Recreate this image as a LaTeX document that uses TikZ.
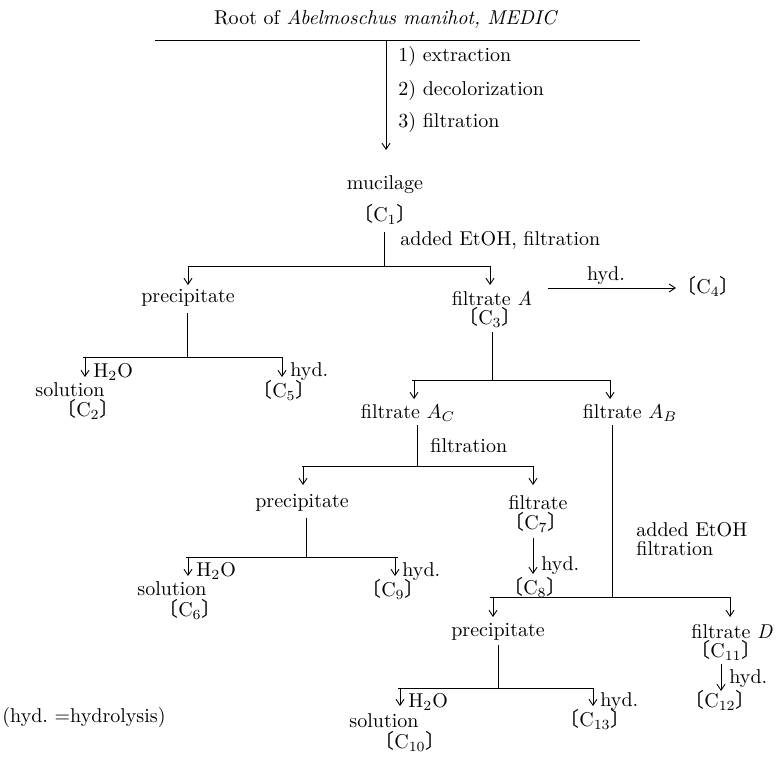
\documentclass[tikz,border=0pt]{standalone}
\usepackage{fontspec}
\newfontfamily\cjk{Noto Sans CJK JP}
\usetikzlibrary{arrows.meta}
\newcommand\cc[1]{\smash{{\cjk 〔}}C$_{#1}$\smash{{\cjk 〕}}}
\begin{document}
\begin{tikzpicture}[x=0.5pt,y=-0.5pt,
  lbl/.style={inner sep=0pt, font=\fontsize{10}{12}\selectfont},
  ln/.style={line width=0.45pt},
  arr/.style={line width=0.45pt,-{Straight Barb[length=3pt,width=4pt]}}]
\useasboundingbox (0,0) rectangle (779,757);
% top
\node[lbl] (root) at (386,19) {Root of \textit{Abelmoschus manihot, MEDIC}};
\coordinate (tl) at (155,40); \coordinate (tr) at (640,40);
\draw[ln] (tl) -- (tr);
\coordinate (t0) at (386,41); \coordinate (t1) at (386,150);
\draw[arr] (t0) -- (t1);
\node[lbl,anchor=west] (s1) at (398,56) {1)\ extraction};
\node[lbl,anchor=west] (s2) at (398,90) {2)\ decolorization};
\node[lbl,anchor=west] (s3) at (398,122) {3)\ filtration};
\node[lbl] (muc) at (385,185) {mucilage};
\node[lbl] (c1) at (385,216) {\cc{1}};
% split 1
\coordinate (m0) at (384,232); \coordinate (m1) at (384,266);
\draw[ln] (m0) -- (m1);
\node[lbl,anchor=west] (ae1) at (400,240) {added EtOH, filtration};
\coordinate (h1l) at (188,266); \coordinate (h1r) at (490,266);
\draw[ln] (h1l) -- (h1r);
\coordinate (h1la) at (188,285); \coordinate (h1ra) at (490,285);
\draw[arr] (h1l) -- (h1la);
\draw[arr] (h1r) -- (h1ra);
\node[lbl] (p1) at (188,298) {precipitate};
\node[lbl] (fA) at (492,298) {filtrate \textit{A}};
\node[lbl] (c3) at (490,319) {\cc{3}};
\coordinate (hy0) at (548,288);
\node[lbl] (c4) at (708,288) {\cc{4}};
\draw[arr] (hy0) -- (hy0 -| c4.west);
\node[lbl] (hy4) at (606,276) {hyd.};
% precipitate 1
\coordinate (p1a) at (187,313); \coordinate (p1b) at (187,357);
\draw[ln] (p1a) -- (p1b);
\coordinate (h2l) at (83,357); \coordinate (h2r) at (283,357);
\draw[ln] (h2l) -- (h2r);
\coordinate (h2la) at (85,377); \coordinate (h2ra) at (282,377);
\draw[arr] (85,357) -- (h2la);
\draw[arr] (282,357) -- (h2ra);
\node[lbl,anchor=west] (w2) at (93,372) {H$_2$O};
\node[lbl] (sol2) at (70,390) {solution};
\node[lbl] (c2) at (88,411) {\cc{2}};
\node[lbl,anchor=west] (hy5) at (290,372) {hyd.};
\node[lbl] (c5) at (284,392) {\cc{5}};
% filtrate A
\coordinate (fa0) at (492,332); \coordinate (fa1) at (492,380);
\draw[ln] (fa0) -- (fa1);
\coordinate (h3l) at (412,380); \coordinate (h3r) at (611,380);
\draw[ln] (h3l) -- (h3r);
\coordinate (h3la) at (414,399); \coordinate (h3ra) at (610,399);
\draw[arr] (414,380) -- (h3la);
\draw[arr] (610,380) -- (h3ra);
\node[lbl] (fAC) at (408,413) {filtrate $A_C$};
\node[lbl] (fAB) at (630,413) {filtrate $A_B$};
% filtrate AC
\coordinate (ac0) at (417,425); \coordinate (ac1) at (417,466);
\draw[ln] (ac0) -- (ac1);
\node[lbl,anchor=west] (fil2) at (430,446) {filtration};
\coordinate (h4l) at (302,466); \coordinate (h4r) at (533,466);
\draw[ln] (h4l) -- (h4r);
\coordinate (h4la) at (303,485); \coordinate (h4ra) at (533,485);
\draw[arr] (303,466) -- (h4la);
\draw[arr] (h4r) -- (h4ra);
\node[lbl] (p2) at (302,503) {precipitate};
\node[lbl] (f7) at (538,503) {filtrate};
\node[lbl] (c7) at (536,524) {\cc{7}};
\coordinate (f7a) at (533,538); \coordinate (f7b) at (533,574);
\draw[arr] (f7a) -- (f7b);
\node[lbl,anchor=west] (hy8) at (541,566) {hyd.};
\node[lbl] (c8) at (535,589) {\cc{8}};
% precipitate 2
\coordinate (p2a) at (306,518); \coordinate (p2b) at (306,557);
\draw[ln] (p2a) -- (p2b);
\coordinate (h5l) at (186,557); \coordinate (h5r) at (398,557);
\draw[ln] (h5l) -- (h5r);
\coordinate (h5la) at (188,576); \coordinate (h5ra) at (395,576);
\draw[arr] (188,557) -- (h5la);
\draw[arr] (395,557) -- (h5ra);
\node[lbl,anchor=west] (w6) at (196,571) {H$_2$O};
\node[lbl] (sol6) at (172,589) {solution};
\node[lbl] (c6) at (190,611) {\cc{6}};
\node[lbl,anchor=west] (hy9) at (402,572) {hyd.};
\node[lbl] (c9) at (393,591) {\cc{9}};
% filtrate AB
\coordinate (ab0) at (612,425); \coordinate (ab1) at (612,597);
\draw[ln] (ab0) -- (ab1);
\node[lbl,anchor=west] (ae2) at (636,530) {added EtOH};
\node[lbl,anchor=west] (fil3) at (636,549) {filtration};
\coordinate (h6l) at (490,597); \coordinate (h6r) at (730,597);
\draw[ln] (h6l) -- (h6r);
\coordinate (h6la) at (493,617); \coordinate (h6ra) at (730,617);
\draw[arr] (493,597) -- (h6la);
\draw[arr] (h6r) -- (h6ra);
\node[lbl] (p3) at (498,632) {precipitate};
\node[lbl] (fD) at (732,632) {filtrate \textit{D}};
\node[lbl] (c11) at (726,652) {\cc{11}};
\coordinate (fd0) at (721,664); \coordinate (fd1) at (721,691);
\draw[arr] (fd0) -- (fd1);
\node[lbl,anchor=west] (hy12) at (729,679) {hyd.};
\node[lbl] (c12) at (720,702) {\cc{12}};
% precipitate 3
\coordinate (p3a) at (498,645); \coordinate (p3b) at (498,688);
\draw[ln] (p3a) -- (p3b);
\coordinate (h7l) at (398,688); \coordinate (h7r) at (593,688);
\draw[ln] (h7l) -- (h7r);
\coordinate (h7la) at (400,706); \coordinate (h7ra) at (593,706);
\draw[arr] (400,688) -- (h7la);
\draw[arr] (h7r) -- (h7ra);
\node[lbl,anchor=west] (w10) at (408,702) {H$_2$O};
\node[lbl] (sol10) at (384,721) {solution};
\node[lbl] (c10) at (410,743) {\cc{10}};
\node[lbl,anchor=west] (hy13) at (600,702) {hyd.};
\node[lbl] (c13) at (595,721) {\cc{13}};
% legend
\node[lbl] (leg) at (84,717) {(hyd.\ =hydrolysis)};
\end{tikzpicture}
\end{document}
